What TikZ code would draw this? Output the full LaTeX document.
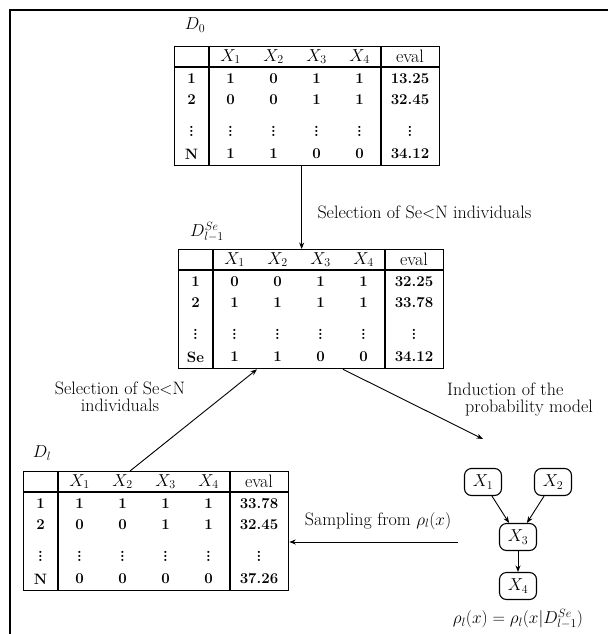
\documentclass[tikz,border=0pt]{standalone}
\usepackage{fontspec}
\usetikzlibrary{arrows.meta,calc}
\tikzset{
  every node/.style={font=\fontsize{18}{17}\selectfont},
  tbl/.style={draw, line width=1.3pt, fill=white, inner sep=0pt},
  tline/.style={line width=1.1pt},
  cell/.style={inner sep=0pt, font=\fontsize{15}{15}\selectfont\bfseries},
  hcell/.style={inner sep=0pt, font=\fontsize{18}{18}\selectfont},
  arr/.style={-{Stealth[length=6.5pt,width=5pt]}, line width=0.9pt},
  gnode/.style={draw, rounded corners=7pt, minimum width=37pt, minimum height=27pt, inner sep=1pt, line width=1.1pt},
  frameline/.style={line width=1.4pt}
}
\newcommand{\edatable}[3]{%
  \begin{scope}[shift={#2}]
    \node[tbl, minimum width=265pt, minimum height=119pt, anchor=north west] (#1) at (0,0) {};
    \draw[tline] (35,0) -- (35,119);
    \draw[tline] (207,0) -- (207,119);
    \draw[line width=1.4pt] (0,21) -- (265,21);
    \node[hcell] (#1-h1) at (56.5,10.5) {$X_1$};
    \node[hcell] (#1-h2) at (99.5,10.5) {$X_2$};
    \node[hcell] (#1-h3) at (142.5,10.5) {$X_3$};
    \node[hcell] (#1-h4) at (185.5,10.5) {$X_4$};
    \node[hcell] (#1-h5) at (236,10.5) {eval};
    \foreach \yy/\r/\a/\b/\c/\d/\e [count=\i] in {#3} {
      \node[cell] (#1-\i-0) at (17.5,\yy) {\r};
      \node[cell] (#1-\i-1) at (56.5,\yy) {\a};
      \node[cell] (#1-\i-2) at (99.5,\yy) {\b};
      \node[cell] (#1-\i-3) at (142.5,\yy) {\c};
      \node[cell] (#1-\i-4) at (185.5,\yy) {\d};
      \node[cell] (#1-\i-5) at (236,\yy) {\e};
    }
  \end{scope}}
\begin{document}
\begin{tikzpicture}[x=1pt,y=-1pt]
\useasboundingbox (0,0) rectangle (608,634);
\draw[frameline] (10,634) -- (10,10) -- (608,10);

\edatable{T0}{(174,46)}{33/1/1/0/1/1/13.25, 54/2/0/0/1/1/32.45, 82/$\vdots$/$\vdots$/$\vdots$/$\vdots$/$\vdots$/$\vdots$, 108/N/1/1/0/0/34.12}
\edatable{T1}{(178,249)}{33/1/0/0/1/1/32.25, 54/2/1/1/1/1/33.78, 82/$\vdots$/$\vdots$/$\vdots$/$\vdots$/$\vdots$/$\vdots$, 108/Se/1/1/0/0/34.12}
\edatable{T2}{(23,471)}{33/1/1/1/1/1/33.78, 54/2/0/0/1/1/32.45, 82/$\vdots$/$\vdots$/$\vdots$/$\vdots$/$\vdots$/$\vdots$, 108/N/0/0/0/0/37.26}

\node (L0) at (195,25) {$D_0$};
\node (L1) at (207,232) {$D^{Se}_{l-1}$};
\node (L2) at (42,453) {$D_l$};

\draw[arr] ([xshift=-5.5pt]T0.south) -- ([xshift=-5.5pt]T0.south |- T1.north);
\node[anchor=west] (s1) at (314,212) {Selection of Se$<$N individuals};

\draw[arr] ([xshift=107pt]T2.north west) -- ([xshift=79pt]T1.south west);
\node[align=center] (s2) at (120,397) {Selection of Se$<$N\\individuals};

\coordinate (gin) at (483,439);
\draw[arr] ([xshift=165pt]T1.south west) -- (gin);
\node[align=left, anchor=north west, inner sep=0pt] (ind) at (447,383) {Induction of the\\\hspace*{18pt}probability model};

\coordinate (gout) at (458,542);
\draw[arr] (gout) -- (gout -| T2.east);
\node (samp) at (378,521) {Sampling from $\rho_l(x)$};

\node[gnode] (X1) at (483,482) {$X_1$};
\node[gnode] (X2) at (553,482) {$X_2$};
\node[gnode] (X3) at (518,537) {$X_3$};
\node[gnode] (X4) at (518,586) {$X_4$};
\draw[arr] (X1) -- (X3);
\draw[arr] (X2) -- (X3);
\draw[arr] (X3) -- (X4);
\node (f) at (518,619) {$\rho_l(x) = \rho_l(x|D^{Se}_{l-1})$};
\end{tikzpicture}
\end{document}
